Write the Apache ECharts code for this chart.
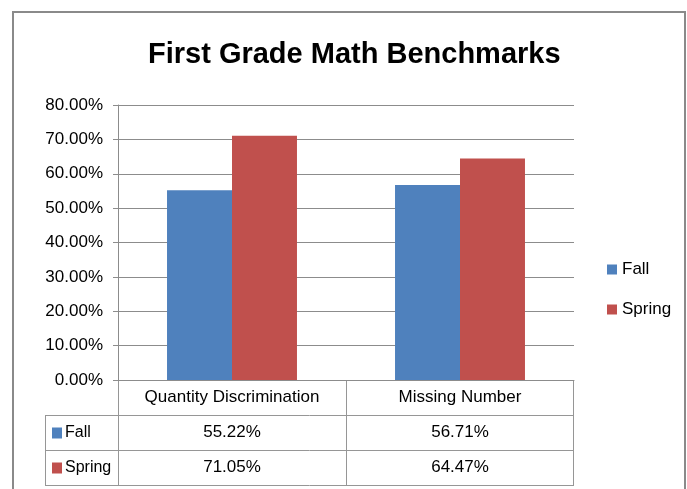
<!DOCTYPE html>
<html>
<head>
	<meta charset="UTF-8">
	<title>First Grade Math Benchmarks</title>
	<script src="https://cdn.jsdelivr.net/npm/echarts@6/dist/echarts.min.js"></script>
</head>
<body style="margin:0; background:#fff;">
	<div id="container" style="width:687px; height:489px;"></div>
	<script type="text/javascript">
		// 数据
		var categories = ['Quantity Discrimination', 'Missing Number'];
		var seriesNames = ['Fall', 'Spring'];
		var fallValues = [55.22, 56.71];
		var springValues = [71.05, 64.47];
		var colors = ['#4F81BD', '#C0504D'];

		var fontName = "'Liberation Sans', sans-serif";
		// 绘图区位置
		var gl = 118, gr = 574, gt = 105, gb = 380;
		var tableLeft = 45, rowH = 35;

		var chart = echarts.init(document.getElementById('container'));

		// 数据表的线
		var lineStyle = { stroke: '#969696', lineWidth: 1 };
		var tableLines = [];
		function addLine(x1, y1, x2, y2) {
			tableLines.push({ type: 'line', shape: { x1: x1, y1: y1, x2: x2, y2: y2 }, style: lineStyle, silent: true });
		}
		var mid = (gl + gr) / 2;
		addLine(tableLeft, gb + rowH + 0.5, gr, gb + rowH + 0.5);
		addLine(tableLeft, gb + rowH * 2 + 0.5, gr, gb + rowH * 2 + 0.5);
		addLine(tableLeft, gb + rowH * 3 + 0.5, gr, gb + rowH * 3 + 0.5);
		addLine(tableLeft + 0.5, gb + rowH, tableLeft + 0.5, gb + rowH * 3);
		addLine(gl + 0.5, gb, gl + 0.5, gb + rowH * 3);
		addLine(mid + 0.5, gb, mid + 0.5, gb + rowH * 3);
		addLine(gr - 0.5, gb, gr - 0.5, gb + rowH * 3);
		// 行标题
		seriesNames.forEach(function (name, i) {
			var cy = gb + rowH * (i + 1) + rowH / 2;
			tableLines.push({ type: 'rect', shape: { x: tableLeft + 7, y: cy - 5, width: 10, height: 11 }, style: { fill: colors[i] }, silent: true });
			tableLines.push({ type: 'text', x: tableLeft + 20, y: cy, style: { text: name, font: '16px ' + fontName, fill: '#000', verticalAlign: 'middle' }, silent: true });
		});
		// 外框
		tableLines.push({ type: 'rect', shape: { x: 13, y: 12, width: 672, height: 500 }, style: { fill: 'none', stroke: '#8a8a8a', lineWidth: 2 }, silent: true });

		var option = {
			animation: false,
			title: {
				text: 'First Grade Math Benchmarks',
				left: 143,
				top: 35,
				textStyle: { fontSize: 29, fontWeight: 'bold', color: '#000', fontFamily: fontName }
			},
			color: colors,
			legend: {
				orient: 'vertical',
				left: 602,
				top: 256,
				itemWidth: 10,
				itemHeight: 10,
				itemGap: 23,
				icon: 'rect',
				textStyle: { fontSize: 17, color: '#000', fontFamily: fontName },
				data: seriesNames
			},
			grid: { left: gl, right: 687 - gr, top: gt, bottom: 489 - gb, containLabel: false },
			xAxis: {
				type: 'category',
				data: categories,
				axisLine: { show: true, lineStyle: { color: '#8c8c8c' } },
				axisTick: { show: false },
				axisLabel: {
					margin: 0,
					interval: 0,
					formatter: function (value, idx) {
						return '{c|' + value + '}\n{v|' + fallValues[idx].toFixed(2) + '%}\n{v|' + springValues[idx].toFixed(2) + '%}';
					},
					rich: {
						c: { fontSize: 17, lineHeight: rowH, color: '#000', fontFamily: fontName },
						v: { fontSize: 17, lineHeight: rowH, color: '#000', fontFamily: fontName }
					}
				}
			},
			yAxis: {
				type: 'value',
				min: 0,
				max: 80,
				interval: 10,
				axisLine: { show: true, lineStyle: { color: '#8c8c8c' } },
				axisTick: { show: true, length: 5, lineStyle: { color: '#8c8c8c' } },
				axisLabel: {
					margin: 15,
					fontSize: 17,
					color: '#000',
					fontFamily: fontName,
					formatter: function (v) { return v.toFixed(2) + '%'; }
				},
				splitLine: { lineStyle: { color: '#8c8c8c' } }
			},
			series: [{
				name: 'Fall',
				type: 'bar',
				barGap: '0%',
				barCategoryGap: '43%',
				data: fallValues
			}, {
				name: 'Spring',
				type: 'bar',
				data: springValues
			}],
			graphic: tableLines
		};
		chart.setOption(option);
	</script>
</body>
</html>
